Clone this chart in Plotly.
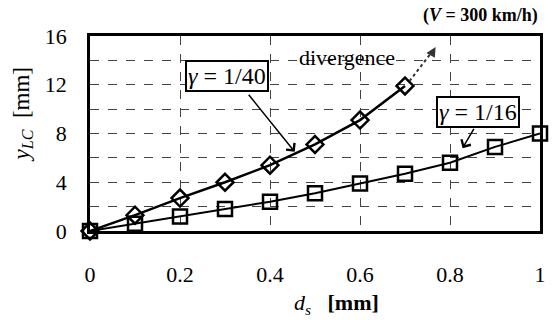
import plotly.graph_objects as go

ds_a = [0, 0.1, 0.2, 0.3, 0.4, 0.5, 0.6, 0.7]
y_a = [0, 1.3, 2.7, 4.0, 5.4, 7.1, 9.1, 11.9]
ds_b = [0, 0.1, 0.2, 0.3, 0.4, 0.5, 0.6, 0.7, 0.8, 0.9, 1.0]
y_b = [0, 0.6, 1.2, 1.8, 2.4, 3.1, 3.9, 4.7, 5.6, 6.9, 8.0]
x_ticks = [0, 0.2, 0.4, 0.6, 0.8, 1]
x_tick_text = ["0", "0.2", "0.4", "0.6", "0.8", "1"]
y_ticks = [0, 4, 8, 12, 16]

FONT = "Liberation Serif, Times New Roman, serif"

def f(size, color="black"):
    return dict(family=FONT, size=size, color=color)

fig = go.Figure()
fig.add_trace(go.Scatter(x=ds_b, y=y_b, mode="lines+markers",
                         line=dict(color="black", width=2),
                         marker=dict(symbol="square-open", size=14, color="black",
                                     line=dict(width=2.5)),
                         showlegend=False, cliponaxis=False))
fig.add_trace(go.Scatter(x=ds_a, y=y_a, mode="lines+markers",
                         line=dict(color="black", width=2.5),
                         marker=dict(symbol="diamond-open", size=13, color="black",
                                     line=dict(width=2.5)),
                         showlegend=False, cliponaxis=False))

fig.update_layout(
    width=556, height=320,
    margin=dict(l=90, r=10, t=36, b=89),
    paper_bgcolor="white", plot_bgcolor="white",
    font=f(22),
    xaxis=dict(range=[0, 1], tickvals=x_ticks, ticktext=x_tick_text,
               showgrid=True, gridcolor="#444", griddash="dash", gridwidth=1,
               showline=True, linecolor="black", linewidth=2.5, mirror=True,
               zeroline=False, ticks="", tickfont=f(22), ticklabelstandoff=22),
    yaxis=dict(range=[0, 16], tickvals=y_ticks,
               showgrid=True, gridcolor="#444", griddash="dash", gridwidth=1,
               minor=dict(dtick=2, showgrid=True, gridcolor="#444", griddash="dash", gridwidth=1),
               showline=True, linecolor="black", linewidth=2.5, mirror=True,
               zeroline=False, ticks="", tickfont=f(22), ticklabelstandoff=16),
)

# axis titles
fig.add_annotation(text="<i>y<sub>LC</sub></i>  [mm]", xref="paper", yref="paper",
                   x=-0.15, y=0.6, xanchor="center", yanchor="middle",
                   textangle=-90, showarrow=False, font=f(23))
fig.add_annotation(text="<i>d<sub>s</sub></i>   <b>[mm]</b>", xref="paper", yref="paper",
                   x=0.548, y=-0.375, xanchor="center", yanchor="middle",
                   showarrow=False, font=f(22))
fig.add_annotation(text="<b>(<i>V</i> = 300 km/h)</b>", xref="paper", yref="paper",
                   x=1.0, y=1.04, xanchor="right", yanchor="bottom",
                   showarrow=False, font=f(18))

# divergence
fig.add_annotation(text="divergence", x=0.572, y=14.2, xref="x", yref="y",
                   showarrow=False, font=f(22))
fig.add_shape(type="line", x0=0.71, y0=12.3, x1=0.76, y1=14.7, xref="x", yref="y",
              line=dict(color="#333", width=2, dash="dot"))
fig.add_annotation(x=0.768, y=15.1, ax=0.76, ay=14.6, xref="x", yref="y",
                   axref="x", ayref="y", text="", showarrow=True,
                   arrowhead=2, arrowsize=1.3, arrowwidth=1.5, arrowcolor="#333",
                   standoff=0)

# gamma boxes with arrows
fig.add_annotation(x=0.455, y=6.5, ax=0.35, ay=11.3, xref="x", yref="y",
                   axref="x", ayref="y", text="", showarrow=True,
                   arrowhead=4, arrowsize=1.4, arrowwidth=1.5, arrowcolor="black")
fig.add_annotation(text="<i>γ</i> = 1/40", x=0.304, y=12.7, xref="x", yref="y",
                   showarrow=False, font=f(24), bgcolor="white",
                   bordercolor="black", borderwidth=2, borderpad=1)
fig.add_annotation(x=0.828, y=6.8, ax=0.855, ay=8.5, xref="x", yref="y",
                   axref="x", ayref="y", text="", showarrow=True,
                   arrowhead=4, arrowsize=1.4, arrowwidth=1.5, arrowcolor="black")
fig.add_annotation(text="<i>γ</i> = 1/16", x=0.862, y=9.8, xref="x", yref="y",
                   showarrow=False, font=f(24), bgcolor="white",
                   bordercolor="black", borderwidth=2, borderpad=1)

fig.write_html("out.html")
